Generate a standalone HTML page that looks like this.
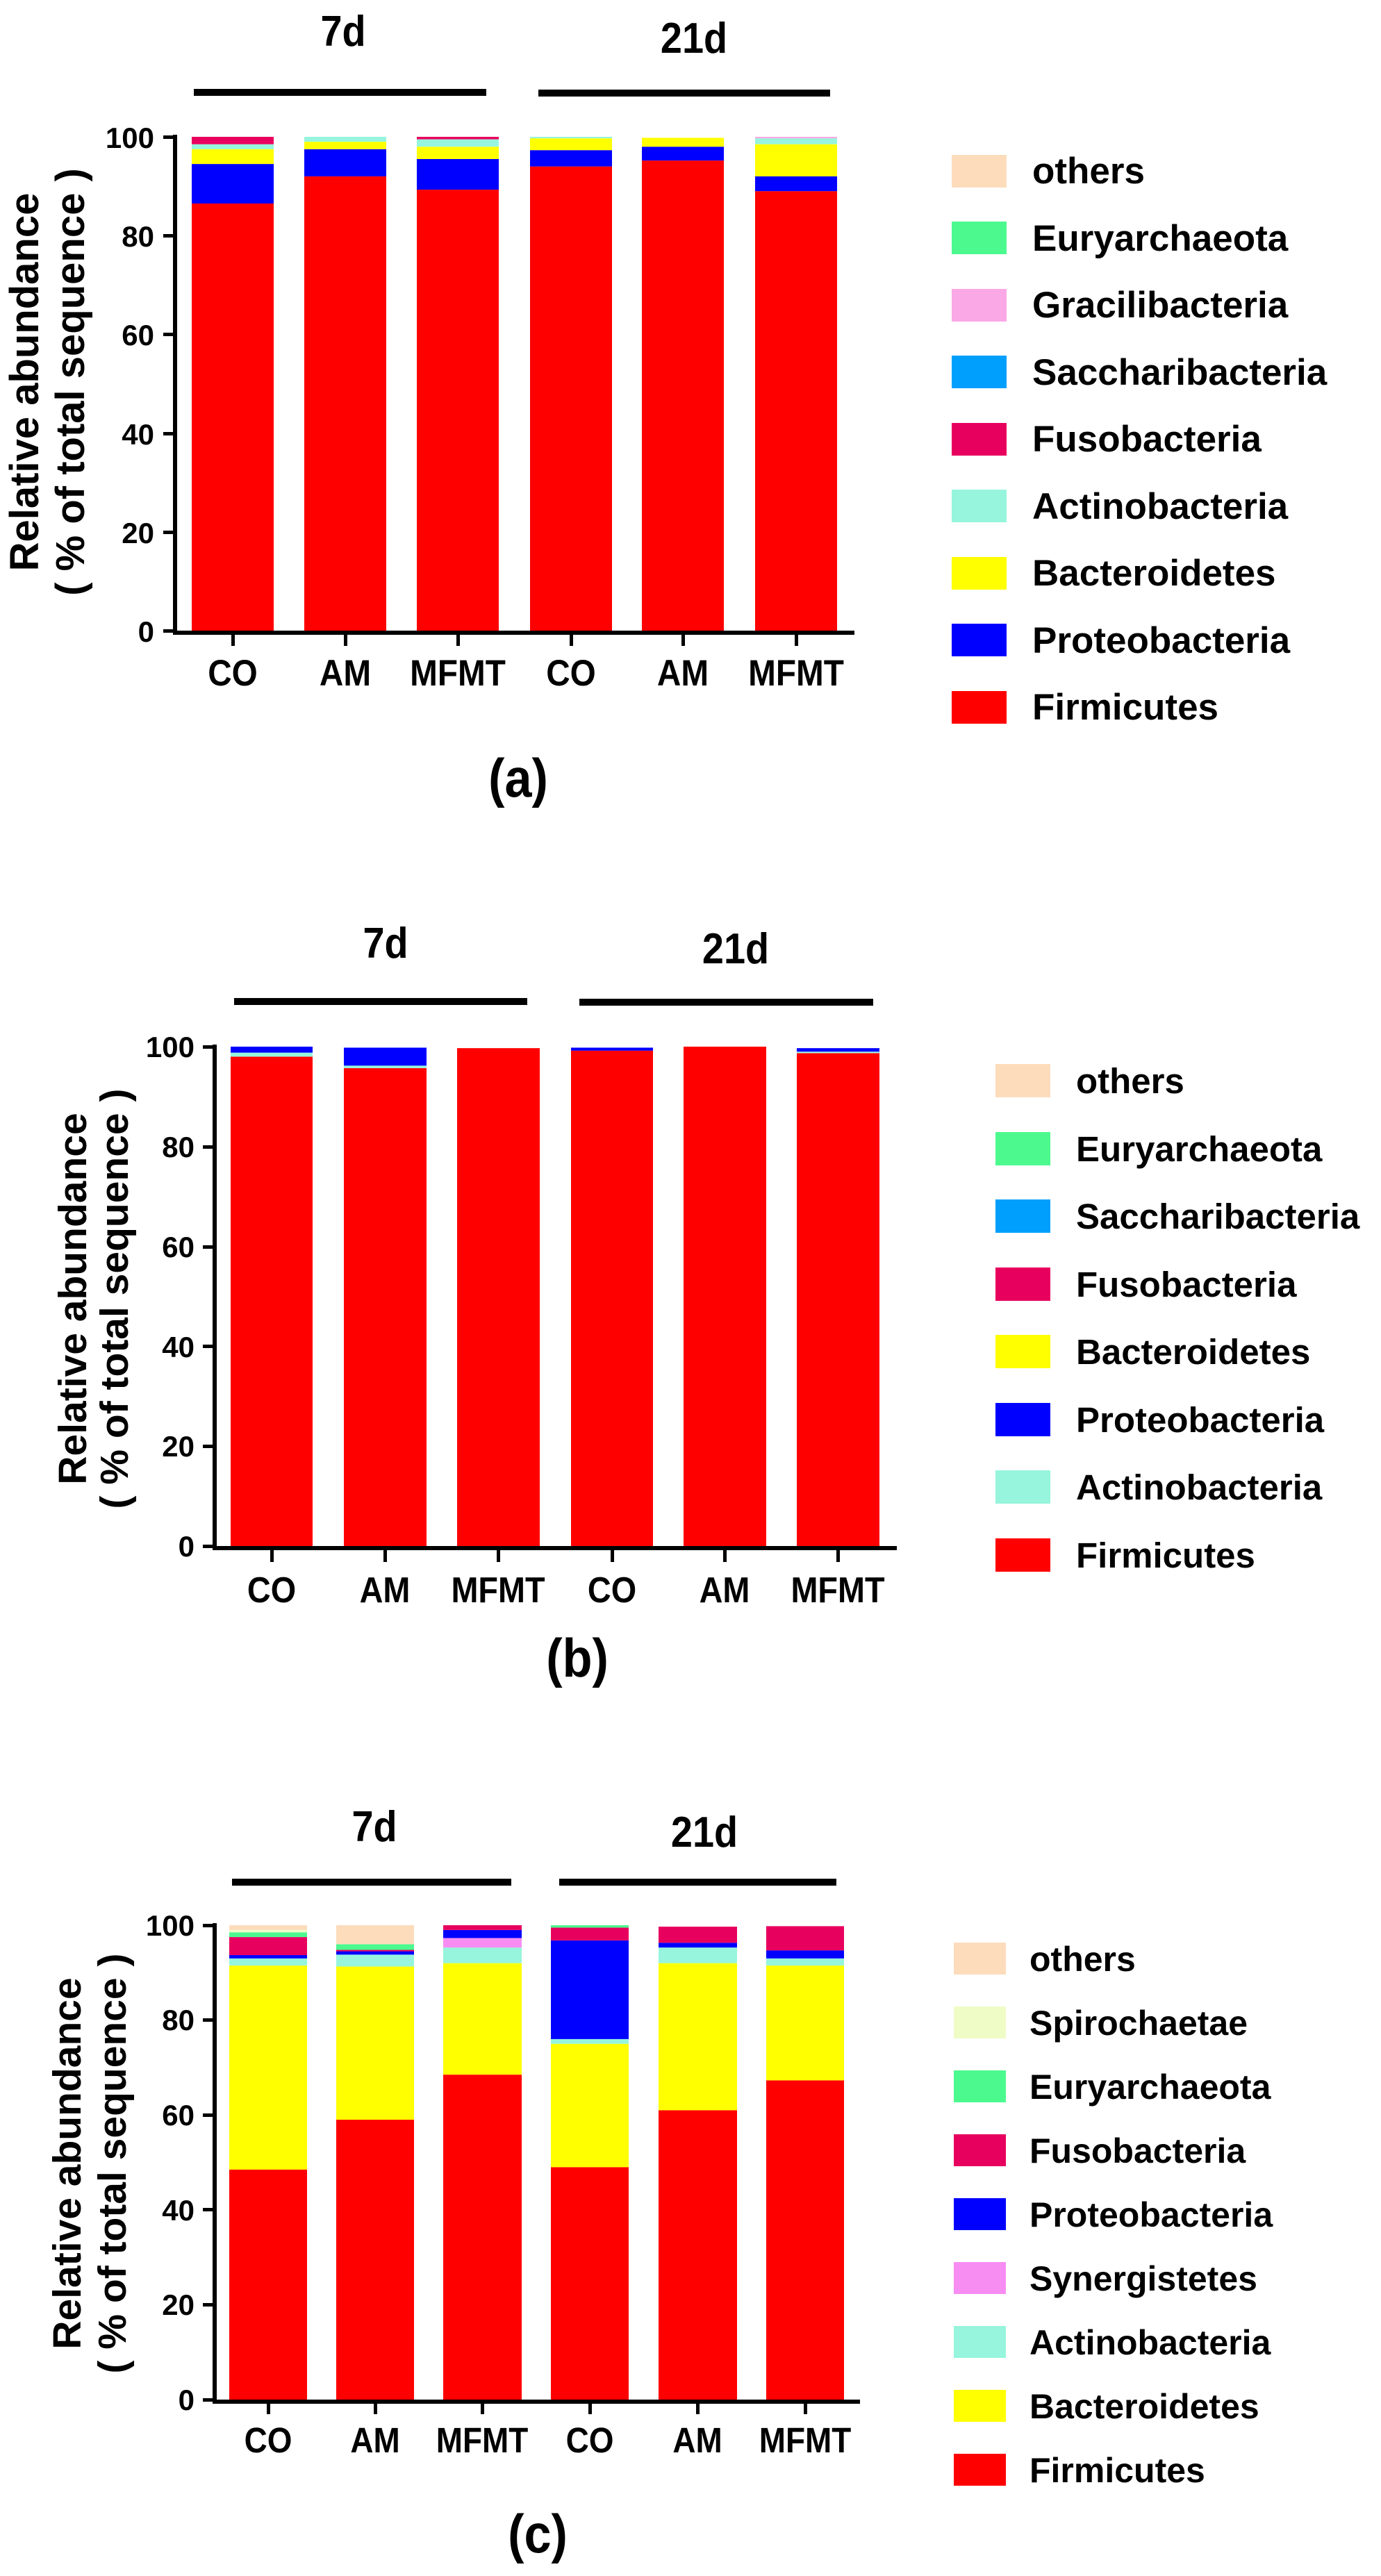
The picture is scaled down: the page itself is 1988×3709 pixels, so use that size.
<!DOCTYPE html>
<html><head><meta charset="utf-8"><style>
html,body{margin:0;padding:0;background:#fff;}
svg{display:block;font-family:"Liberation Sans",Arial,sans-serif;font-weight:bold;}
</style></head><body>
<svg width="1988" height="3709" viewBox="0 0 1988 3709" xmlns="http://www.w3.org/2000/svg">
<rect width="1988" height="3709" fill="#fff"/>

<!-- ============ PANEL A ============ -->
<text x="494" y="66" font-size="62" text-anchor="middle" transform="translate(494,0) scale(0.9,1) translate(-494,0)">7d</text>
<text x="999" y="76" font-size="62" text-anchor="middle" transform="translate(999,0) scale(0.9,1) translate(-999,0)">21d</text>
<rect x="279" y="128" width="421" height="10" fill="#000"/>
<rect x="775" y="129" width="420" height="10" fill="#000"/>

<g transform="translate(0,908) scale(1,-7.11)">
 <rect x="276" y="0" width="118" height="86.5" fill="#ff0000"/>
 <rect x="276" y="86.5" width="118" height="8" fill="#0000ff"/>
 <rect x="276" y="94.5" width="118" height="3" fill="#ffff00"/>
 <rect x="276" y="97.5" width="118" height="1" fill="#96f5dc"/>
 <rect x="276" y="98.5" width="118" height="1.5" fill="#e8005e"/>

 <rect x="438" y="0" width="118" height="92" fill="#ff0000"/>
 <rect x="438" y="92" width="118" height="5.5" fill="#0000ff"/>
 <rect x="438" y="97.5" width="118" height="1.5" fill="#ffff00"/>
 <rect x="438" y="99" width="118" height="1" fill="#96f5dc"/>

 <rect x="600" y="0" width="118" height="89.3" fill="#ff0000"/>
 <rect x="600" y="89.3" width="118" height="6.2" fill="#0000ff"/>
 <rect x="600" y="95.5" width="118" height="2.5" fill="#ffff00"/>
 <rect x="600" y="98" width="118" height="1.5" fill="#96f5dc"/>
 <rect x="600" y="99.5" width="118" height="0.5" fill="#e8005e"/>

 <rect x="763" y="0" width="118" height="94" fill="#ff0000"/>
 <rect x="763" y="94" width="118" height="3.3" fill="#0000ff"/>
 <rect x="763" y="97.3" width="118" height="2.4" fill="#ffff00"/>
 <rect x="763" y="99.7" width="118" height="0.3" fill="#96f5dc"/>

 <rect x="924" y="0" width="118" height="95.2" fill="#ff0000"/>
 <rect x="924" y="95.2" width="118" height="2.8" fill="#0000ff"/>
 <rect x="924" y="98" width="118" height="1.8" fill="#ffff00"/>

 <rect x="1087" y="0" width="118" height="89" fill="#ff0000"/>
 <rect x="1087" y="89" width="118" height="3" fill="#0000ff"/>
 <rect x="1087" y="92" width="118" height="6.5" fill="#ffff00"/>
 <rect x="1087" y="98.5" width="118" height="1.2" fill="#96f5dc"/>
 <rect x="1087" y="99.7" width="118" height="0.3" fill="#fba8e6"/>
</g>
<rect x="249" y="194" width="6" height="720" fill="#000"/>
<rect x="249" y="908" width="981" height="6" fill="#000"/>
<g fill="#000">
 <rect x="235" y="195" width="17" height="5"/><rect x="235" y="337" width="17" height="5"/><rect x="235" y="479" width="17" height="5"/>
 <rect x="235" y="622" width="17" height="5"/><rect x="235" y="764" width="17" height="5"/><rect x="235" y="906" width="17" height="5"/>
 <rect x="333" y="911" width="5" height="19"/><rect x="495" y="911" width="5" height="19"/><rect x="657" y="911" width="5" height="19"/>
 <rect x="820" y="911" width="5" height="19"/><rect x="981" y="911" width="5" height="19"/><rect x="1144" y="911" width="5" height="19"/>
</g>
<g font-size="42" text-anchor="end">
 <text x="222" y="213">100</text><text x="222" y="355">80</text><text x="222" y="497">60</text>
 <text x="222" y="640">40</text><text x="222" y="782">20</text><text x="222" y="924">0</text>
</g>
<g font-size="53" text-anchor="middle">
 <text transform="translate(335,987) scale(0.9,1)">CO</text>
 <text transform="translate(497,987) scale(0.9,1)">AM</text>
 <text transform="translate(659,987) scale(0.9,1)">MFMT</text>
 <text transform="translate(822,987) scale(0.9,1)">CO</text>
 <text transform="translate(983,987) scale(0.9,1)">AM</text>
 <text transform="translate(1146,987) scale(0.9,1)">MFMT</text>
</g>
<g font-size="58" text-anchor="middle">
 <text transform="translate(55,550) rotate(-90)">Relative abundance</text>
 <text transform="translate(121,550) rotate(-90)">( % of total sequence )</text>
</g>
<text transform="translate(746,1147) scale(0.9,1)" font-size="78" text-anchor="middle">(a)</text>
<g>
 <rect x="1370" y="223" width="79" height="47" fill="#fddcbc"/>
 <rect x="1370" y="319" width="79" height="47" fill="#4cf98e"/>
 <rect x="1370" y="416" width="79" height="47" fill="#fba8e6"/>
 <rect x="1370" y="512" width="79" height="47" fill="#009ffd"/>
 <rect x="1370" y="609" width="79" height="47" fill="#e8005e"/>
 <rect x="1370" y="705" width="79" height="47" fill="#96f5dc"/>
 <rect x="1370" y="802" width="79" height="47" fill="#ffff00"/>
 <rect x="1370" y="898" width="79" height="47" fill="#0000ff"/>
 <rect x="1370" y="995" width="79" height="47" fill="#ff0000"/>
</g>
<g font-size="53">
 <text x="1486" y="264">others</text>
 <text x="1486" y="361">Euryarchaeota</text>
 <text x="1486" y="457">Gracilibacteria</text>
 <text x="1486" y="554">Saccharibacteria</text>
 <text x="1486" y="650">Fusobacteria</text>
 <text x="1486" y="747">Actinobacteria</text>
 <text x="1486" y="843">Bacteroidetes</text>
 <text x="1486" y="940">Proteobacteria</text>
 <text x="1486" y="1036">Firmicutes</text>
</g>

<!-- ============ PANEL B ============ -->
<text transform="translate(555,1379) scale(0.9,1)" font-size="62" text-anchor="middle">7d</text>
<text transform="translate(1059,1387) scale(0.9,1)" font-size="62" text-anchor="middle">21d</text>
<rect x="337" y="1437" width="422" height="10" fill="#000"/>
<rect x="834" y="1438" width="423" height="10" fill="#000"/>

<g transform="translate(0,2226) scale(1,-7.19)">
 <rect x="332" y="0" width="118" height="98" fill="#ff0000"/>
 <rect x="332" y="98" width="118" height="0.8" fill="#96f5dc"/>
 <rect x="332" y="98.8" width="118" height="1.2" fill="#0000ff"/>

 <rect x="495" y="0" width="119" height="95.7" fill="#ff0000"/>
 <rect x="495" y="95.7" width="119" height="0.5" fill="#96f5dc"/>
 <rect x="495" y="96.2" width="119" height="3.6" fill="#0000ff"/>

 <rect x="658" y="0" width="119" height="99.7" fill="#ff0000"/>

 <rect x="822" y="0" width="118" height="99.2" fill="#ff0000"/>
 <rect x="822" y="99.2" width="118" height="0.6" fill="#0000ff"/>

 <rect x="984" y="0" width="119" height="100" fill="#ff0000"/>

 <rect x="1147" y="0" width="119" height="98.7" fill="#ff0000"/>
 <rect x="1147" y="98.7" width="119" height="0.3" fill="#96f5dc"/>
 <rect x="1147" y="99" width="119" height="0.7" fill="#0000ff"/>
</g>
<rect x="306" y="1504" width="6" height="725" fill="#000"/>
<rect x="306" y="2226" width="985" height="6" fill="#000"/>
<g fill="#000">
 <rect x="292" y="1505" width="17" height="5"/><rect x="292" y="1649" width="17" height="5"/><rect x="292" y="1793" width="17" height="5"/>
 <rect x="292" y="1936" width="17" height="5"/><rect x="292" y="2080" width="17" height="5"/><rect x="292" y="2224" width="17" height="5"/>
 <rect x="389" y="2229" width="5" height="20"/><rect x="552" y="2229" width="5" height="20"/><rect x="715" y="2229" width="5" height="20"/>
 <rect x="879" y="2229" width="5" height="20"/><rect x="1041" y="2229" width="5" height="20"/><rect x="1204" y="2229" width="5" height="20"/>
</g>
<g font-size="42" text-anchor="end">
 <text x="280" y="1522">100</text><text x="280" y="1666">80</text><text x="280" y="1810">60</text>
 <text x="280" y="1954">40</text><text x="280" y="2097">20</text><text x="280" y="2241">0</text>
</g>
<g font-size="52" text-anchor="middle">
 <text transform="translate(391,2307) scale(0.9,1)">CO</text>
 <text transform="translate(554,2307) scale(0.9,1)">AM</text>
 <text transform="translate(717,2307) scale(0.9,1)">MFMT</text>
 <text transform="translate(881,2307) scale(0.9,1)">CO</text>
 <text transform="translate(1043,2307) scale(0.9,1)">AM</text>
 <text transform="translate(1206,2307) scale(0.9,1)">MFMT</text>
</g>
<g font-size="57" text-anchor="middle">
 <text transform="translate(124,1870) rotate(-90)">Relative abundance</text>
 <text transform="translate(184,1870) rotate(-90)">( % of total sequence )</text>
</g>
<text transform="translate(831,2414) scale(0.9,1)" font-size="78" text-anchor="middle">(b)</text>
<g>
 <rect x="1433" y="1532" width="79" height="48" fill="#fddcbc"/>
 <rect x="1433" y="1630" width="79" height="48" fill="#4cf98e"/>
 <rect x="1433" y="1727" width="79" height="48" fill="#009ffd"/>
 <rect x="1433" y="1825" width="79" height="48" fill="#e8005e"/>
 <rect x="1433" y="1922" width="79" height="48" fill="#ffff00"/>
 <rect x="1433" y="2020" width="79" height="48" fill="#0000ff"/>
 <rect x="1433" y="2117" width="79" height="48" fill="#96f5dc"/>
 <rect x="1433" y="2215" width="79" height="48" fill="#ff0000"/>
</g>
<g font-size="51">
 <text x="1549" y="1574">others</text>
 <text x="1549" y="1672">Euryarchaeota</text>
 <text x="1549" y="1769">Saccharibacteria</text>
 <text x="1549" y="1867">Fusobacteria</text>
 <text x="1549" y="1964">Bacteroidetes</text>
 <text x="1549" y="2062">Proteobacteria</text>
 <text x="1549" y="2159">Actinobacteria</text>
 <text x="1549" y="2257">Firmicutes</text>
</g>

<!-- ============ PANEL C ============ -->
<text transform="translate(539,2651) scale(0.9,1)" font-size="62" text-anchor="middle">7d</text>
<text transform="translate(1014,2659) scale(0.9,1)" font-size="62" text-anchor="middle">21d</text>
<rect x="334" y="2705" width="402" height="10" fill="#000"/>
<rect x="805" y="2705" width="399" height="10" fill="#000"/>

<g transform="translate(0,3455) scale(1,-6.83)">
 <rect x="330" y="0" width="112" height="48.5" fill="#ff0000"/>
 <rect x="330" y="48.5" width="112" height="43" fill="#ffff00"/>
 <rect x="330" y="91.5" width="112" height="1.5" fill="#96f5dc"/>
 <rect x="330" y="93" width="112" height="0.7" fill="#0000ff"/>
 <rect x="330" y="93.7" width="112" height="3.8" fill="#e8005e"/>
 <rect x="330" y="97.5" width="112" height="1" fill="#4cf98e"/>
 <rect x="330" y="98.5" width="112" height="0.5" fill="#effcc6"/>
 <rect x="330" y="99" width="112" height="1" fill="#fddcbc"/>

 <rect x="484" y="0" width="112" height="59" fill="#ff0000"/>
 <rect x="484" y="59" width="112" height="32.3" fill="#ffff00"/>
 <rect x="484" y="91.3" width="112" height="2.5" fill="#96f5dc"/>
 <rect x="484" y="93.8" width="112" height="0.7" fill="#0000ff"/>
 <rect x="484" y="94.5" width="112" height="0.3" fill="#e8005e"/>
 <rect x="484" y="94.8" width="112" height="1.2" fill="#4cf98e"/>
 <rect x="484" y="96" width="112" height="4" fill="#fddcbc"/>

 <rect x="638" y="0" width="113" height="68.5" fill="#ff0000"/>
 <rect x="638" y="68.5" width="113" height="23.5" fill="#ffff00"/>
 <rect x="638" y="92" width="113" height="3.3" fill="#96f5dc"/>
 <rect x="638" y="95.3" width="113" height="2" fill="#f78df3"/>
 <rect x="638" y="97.3" width="113" height="1.7" fill="#0000ff"/>
 <rect x="638" y="99" width="113" height="1" fill="#e8005e"/>

 <rect x="793" y="0" width="112" height="49" fill="#ff0000"/>
 <rect x="793" y="49" width="112" height="26" fill="#ffff00"/>
 <rect x="793" y="75" width="112" height="1" fill="#96f5dc"/>
 <rect x="793" y="76" width="112" height="20.8" fill="#0000ff"/>
 <rect x="793" y="96.8" width="112" height="2.7" fill="#e8005e"/>
 <rect x="793" y="99.5" width="112" height="0.5" fill="#4cf98e"/>

 <rect x="948" y="0" width="113" height="61" fill="#ff0000"/>
 <rect x="948" y="61" width="113" height="31" fill="#ffff00"/>
 <rect x="948" y="92" width="113" height="3.3" fill="#96f5dc"/>
 <rect x="948" y="95.3" width="113" height="1" fill="#0000ff"/>
 <rect x="948" y="96.3" width="113" height="3.4" fill="#e8005e"/>

 <rect x="1103" y="0" width="112" height="67.3" fill="#ff0000"/>
 <rect x="1103" y="67.3" width="112" height="24.2" fill="#ffff00"/>
 <rect x="1103" y="91.5" width="112" height="1.5" fill="#96f5dc"/>
 <rect x="1103" y="93" width="112" height="1.7" fill="#0000ff"/>
 <rect x="1103" y="94.7" width="112" height="5.1" fill="#e8005e"/>
</g>
<rect x="306" y="2769" width="6" height="691" fill="#000"/>
<rect x="306" y="3455" width="932" height="6" fill="#000"/>
<g fill="#000">
 <rect x="292" y="2770" width="17" height="5"/><rect x="292" y="2906" width="17" height="5"/><rect x="292" y="3043" width="17" height="5"/>
 <rect x="292" y="3179" width="17" height="5"/><rect x="292" y="3316" width="17" height="5"/><rect x="292" y="3453" width="17" height="5"/>
 <rect x="384" y="3458" width="5" height="18"/><rect x="538" y="3458" width="5" height="18"/><rect x="692" y="3458" width="5" height="18"/>
 <rect x="847" y="3458" width="5" height="18"/><rect x="1002" y="3458" width="5" height="18"/><rect x="1157" y="3458" width="5" height="18"/>
</g>
<g font-size="42" text-anchor="end">
 <text x="280" y="2787">100</text><text x="280" y="2923">80</text><text x="280" y="3060">60</text>
 <text x="280" y="3197">40</text><text x="280" y="3333">20</text><text x="280" y="3470">0</text>
</g>
<g font-size="51" text-anchor="middle">
 <text transform="translate(386,3531) scale(0.9,1)">CO</text>
 <text transform="translate(540,3531) scale(0.9,1)">AM</text>
 <text transform="translate(694,3531) scale(0.9,1)">MFMT</text>
 <text transform="translate(849,3531) scale(0.9,1)">CO</text>
 <text transform="translate(1004,3531) scale(0.9,1)">AM</text>
 <text transform="translate(1159,3531) scale(0.9,1)">MFMT</text>
</g>
<g font-size="57" text-anchor="middle">
 <text transform="translate(116,3115) rotate(-90)">Relative abundance</text>
 <text transform="translate(181,3115) rotate(-90)">( % of total sequence )</text>
</g>
<text transform="translate(774,3675) scale(0.9,1)" font-size="78" text-anchor="middle">(c)</text>
<g>
 <rect x="1373" y="2797" width="75" height="46" fill="#fddcbc"/>
 <rect x="1373" y="2889" width="75" height="46" fill="#effcc6"/>
 <rect x="1373" y="2981" width="75" height="46" fill="#4cf98e"/>
 <rect x="1373" y="3073" width="75" height="46" fill="#e8005e"/>
 <rect x="1373" y="3165" width="75" height="46" fill="#0000ff"/>
 <rect x="1373" y="3257" width="75" height="46" fill="#f78df3"/>
 <rect x="1373" y="3349" width="75" height="46" fill="#96f5dc"/>
 <rect x="1373" y="3441" width="75" height="46" fill="#ffff00"/>
 <rect x="1373" y="3533" width="75" height="46" fill="#ff0000"/>
</g>
<g font-size="50">
 <text x="1482" y="2838">others</text>
 <text x="1482" y="2930">Spirochaetae</text>
 <text x="1482" y="3022">Euryarchaeota</text>
 <text x="1482" y="3114">Fusobacteria</text>
 <text x="1482" y="3206">Proteobacteria</text>
 <text x="1482" y="3298">Synergistetes</text>
 <text x="1482" y="3390">Actinobacteria</text>
 <text x="1482" y="3482">Bacteroidetes</text>
 <text x="1482" y="3574">Firmicutes</text>
</g>
</svg>
</body></html>
